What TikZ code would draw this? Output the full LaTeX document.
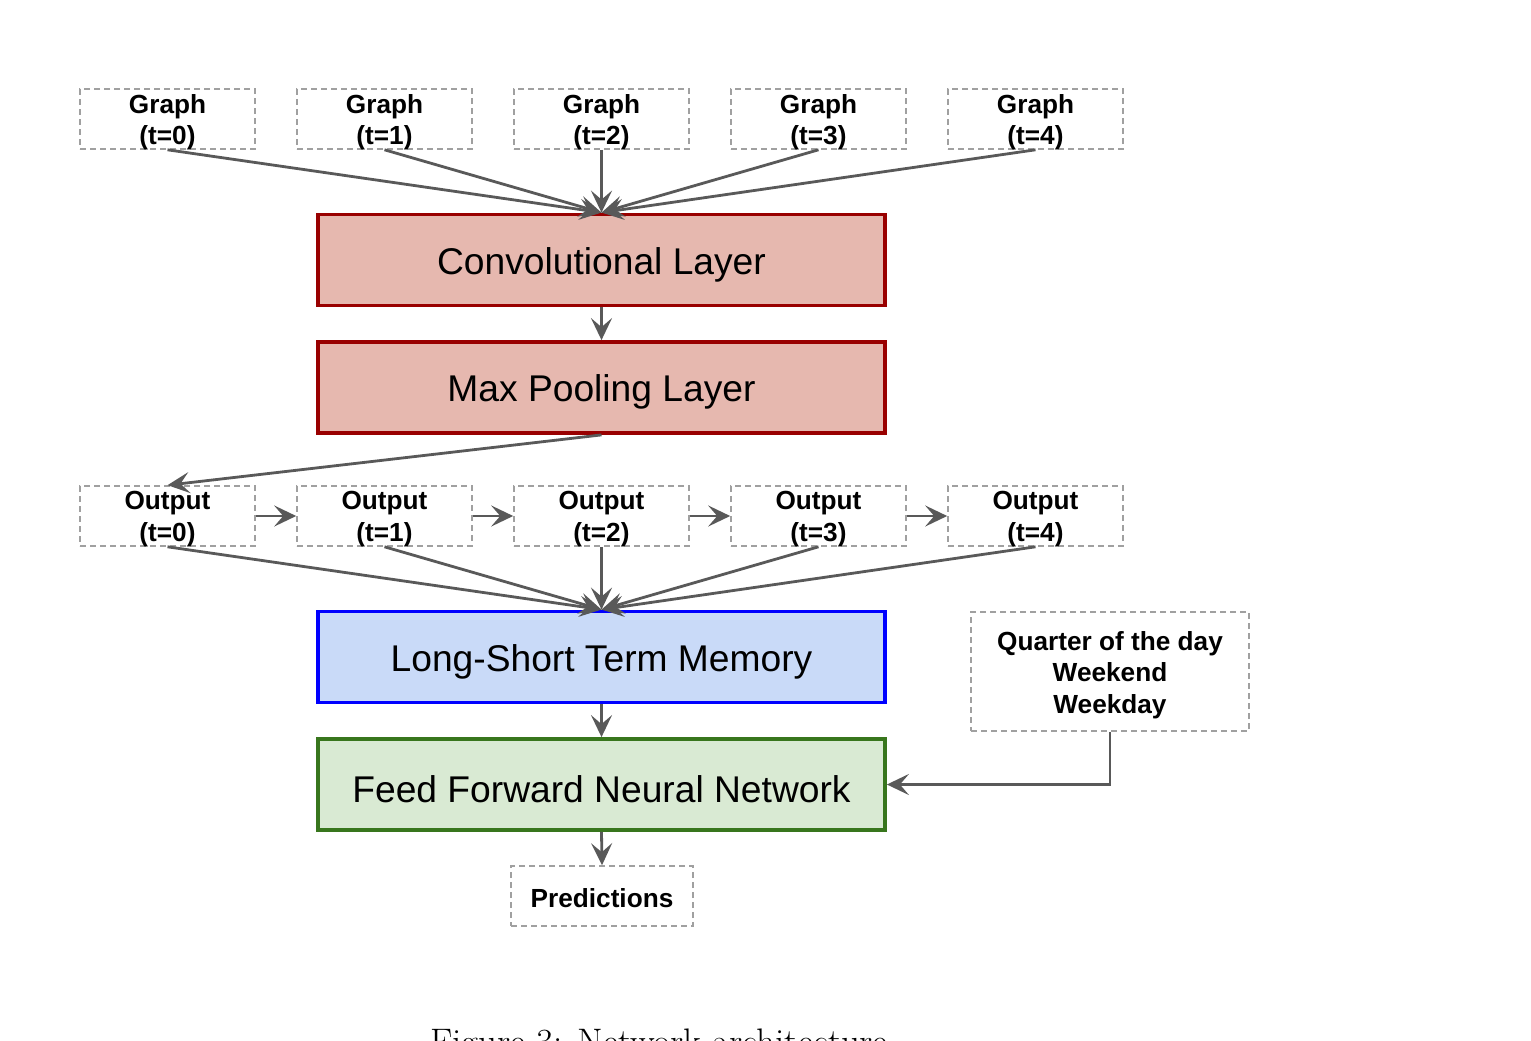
\documentclass[tikz,border=0pt]{standalone}
\usepackage{fontspec}
\newfontfamily\arial{Liberation Sans}
\usetikzlibrary{arrows.meta}
\definecolor{convfill}{HTML}{E6B8AF}
\definecolor{convdraw}{HTML}{990000}
\definecolor{lstmfill}{HTML}{C9DAF8}
\definecolor{lstmdraw}{HTML}{0000FF}
\definecolor{ffnnfill}{HTML}{D9EAD3}
\definecolor{ffnndraw}{HTML}{38761D}
\definecolor{arrowgray}{HTML}{595959}
\definecolor{dashgray}{HTML}{A0A0A0}
\begin{document}
\begin{tikzpicture}[x=1pt,y=-1pt,
  smallbox/.style={draw=dashgray, line width=1.6pt, dash pattern=on 6pt off 4pt,
    minimum width=175pt, minimum height=60pt, inner sep=0pt},
  smalltext/.style={inner sep=0pt, align=center,
    font=\arial\bfseries\fontsize{26.2}{31.5}\selectfont},
  bigbox/.style={line width=3.8pt, minimum width=567pt, minimum height=91pt,
    inner sep=0pt},
  bigtext/.style={inner sep=0pt, align=center, font=\arial\fontsize{37.2}{42}\selectfont},
  conn/.style={draw=arrowgray, line width=2.8pt,
    -{Stealth[length=22pt, width=21pt, inset=9pt]}},
]
\useasboundingbox (0,0) rectangle (1531,1041);

% Graph inputs
\foreach \i/\x in {0/167.5,1/384.5,2/601.5,3/818.5,4/1035.5}{
  \node[smallbox] (g\i) at (\x,119) {};
  \node[smalltext] (gt\i) at ([yshift=-3pt]g\i.center) {Graph\\(t=\i)};
}
\node[bigbox, fill=convfill, draw=convdraw] (conv) at (601.5,260) {};
\node[bigtext] (convt) at ([yshift=-4.5pt]conv.center) {Convolutional Layer};
\node[bigbox, fill=convfill, draw=convdraw] (pool) at (601.5,387.5) {};
\node[bigtext] (poolt) at ([yshift=-4.5pt]pool.center) {Max Pooling Layer};

\foreach \i/\x in {0/167.5,1/384.5,2/601.5,3/818.5,4/1035.5}{
  \node[smallbox] (o\i) at (\x,516) {};
  \node[smalltext] (ot\i) at ([yshift=-3pt]o\i.center) {Output\\(t=\i)};
}
\node[bigbox, fill=lstmfill, draw=lstmdraw] (lstm) at (601.5,657) {};
\node[bigtext] (lstmt) at ([yshift=-4.5pt]lstm.center) {Long-Short Term Memory};
\node[bigbox, fill=ffnnfill, draw=ffnndraw] (ffnn) at (601.5,784.5) {};
\node[bigtext] (ffnnt) at ([yshift=-4.5pt]ffnn.center) {Feed Forward Neural Network};
\node[smallbox, minimum width=182pt] (pred) at (602,896) {};
\node[smalltext] (predt) at ([yshift=-2pt]pred.center) {Predictions};
\node[smallbox, minimum width=278pt, minimum height=119pt] (quarter) at (1110,671.5) {};
\node[smalltext] (quartert) at ([yshift=-3.5pt]quarter.center)
  {Quarter of the day\\Weekend\\Weekday};

% connectors
\foreach \i in {0,1,2,3,4}{
  \draw[conn] (g\i.south) -- (conv.north);
  \draw[conn] (o\i.south) -- (lstm.north);
}
\draw[conn] (conv.south) -- (pool.north);
\draw[conn] (pool.south) -- (o0.north);
\draw[conn] (o0.east) -- (o1.west);
\draw[conn] (o1.east) -- (o2.west);
\draw[conn] (o2.east) -- (o3.west);
\draw[conn] (o3.east) -- (o4.west);
\draw[conn] (lstm.south) -- (ffnn.north);
\draw[conn] (ffnn.south) -- (pred.north);
\draw[conn] (quarter.south) |- (ffnn.east);

% caption (cut off by the page edge, as in the reference)
\begin{scope}
\clip (0,0) rectangle (1531,1041);
\node[anchor=base, inner sep=0pt, font=\fontsize{36.9}{42}\selectfont] (cap) at (659,1054)
  {Figure 3: Network architecture};
\end{scope}
\end{tikzpicture}
\end{document}
